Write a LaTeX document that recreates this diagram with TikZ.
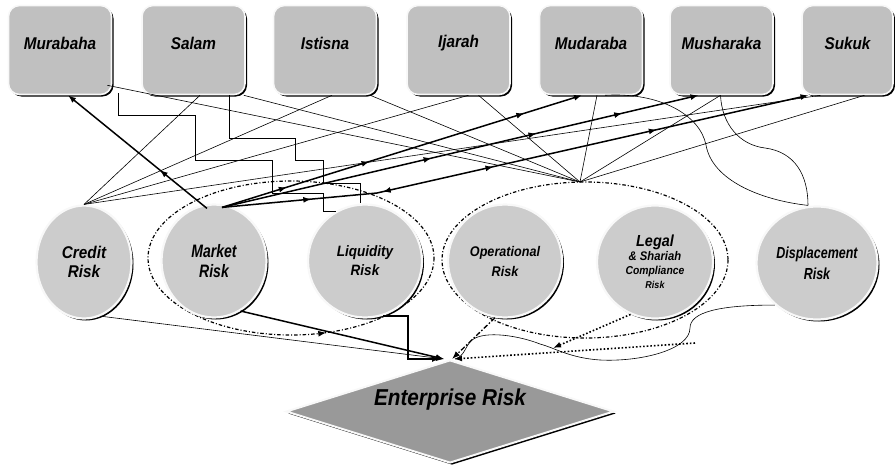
\documentclass[tikz,border=0pt]{standalone}
\usepackage{fontspec}
\setmainfont{Liberation Sans}
\newfontfamily\lab{Liberation Sans}[FakeStretch=0.9]
\newfontfamily\labn{Liberation Sans}[FakeStretch=0.78]
\usetikzlibrary{shapes.geometric,shadows,arrows.meta,decorations.markings}
\definecolor{boxgray}{RGB}{192,192,192}
\definecolor{circgray}{RGB}{204,204,204}
\definecolor{diagray}{RGB}{153,153,153}
\definecolor{rimwhite}{RGB}{248,248,248}
\begin{document}
\begin{tikzpicture}[x=1pt,y=-1pt,
  shd/.style={drop shadow={shadow xshift=2pt,shadow yshift=-2pt,fill=black,opacity=1}},
  boxn/.style={rectangle,rounded corners=11pt,minimum width=103pt,minimum height=89pt,
    fill=boxgray,draw=rimwhite,line width=1.6pt,shd,inner sep=0pt},
  lbl/.style={font=\lab\bfseries\itshape\fontsize{17}{19}\selectfont,text=black},
  rsk/.style={ellipse,minimum height=113pt,fill=circgray,draw=rimwhite,line width=2.2pt,shd,
    inner sep=0pt,align=center,font=\lab\bfseries\itshape\fontsize{17}{19}\selectfont},
  dia/.style={diamond,minimum width=328pt,minimum height=103pt,inner sep=0pt,
    fill=diagray,draw=rimwhite,line width=2pt,shd},
  grp/.style={line width=1.2pt,dash pattern=on 3.5pt off 2pt on 1pt off 2pt},
  thn/.style={line width=0.6pt},
  thk/.style={line width=1.5pt},
  tip/.style={-{Latex[length=8pt,width=6pt]}},
  marr/.style={postaction={decorate,decoration={markings,
    mark=at position #1 with {\arrow{Latex[length=8pt,width=6pt]}}}}},
  rarr/.style={postaction={decorate,decoration={markings,
    mark=at position #1 with {\arrowreversed{Latex[length=8pt,width=6pt]}}}}}
]
\useasboundingbox (0,0) rectangle (895,466);

% group ellipses
\draw[grp,rarr=0.2] (291,258) ellipse [x radius=143, y radius=77];
\draw[grp] (585,260) ellipse [x radius=143, y radius=78];

% contract boxes
\node[boxn,label={[lbl,yshift=7pt]center:Murabaha}] (mur) at (60,50) {};
\node[boxn,label={[lbl,yshift=7pt]center:Salam}] (sal) at (193.5,50) {};
\node[boxn,label={[lbl,yshift=7pt]center:Istisna}] (ist) at (325,50) {};
\node[boxn,label={[lbl,yshift=7pt]center:Ijarah}] (ija) at (458.5,50) {};
\node[boxn,label={[lbl,yshift=7pt]center:Mudaraba}] (mud) at (591,50) {};
\node[boxn,label={[lbl,yshift=7pt]center:Musharaka}] (mus) at (721.5,50) {};
\node[boxn,minimum width=91pt,label={[lbl,yshift=7pt]center:Sukuk}] (suk) at (847.5,50) {};

% risk ellipses
\node[rsk,minimum width=95pt] (cre) at (84,262) {Credit\\Risk};
\node[rsk,minimum width=105pt,font=\labn\bfseries\itshape\fontsize{18}{20}\selectfont] (mkt) at (214,261) {Market\\Risk};
\node[rsk,minimum width=114pt,font=\lab\bfseries\itshape\fontsize{15}{19}\selectfont] (liq) at (365,261) {Liquidity\\Risk};
\node[rsk,minimum width=114pt,font=\lab\bfseries\itshape\fontsize{14}{20}\selectfont] (ope) at (505,261) {Operational\\Risk};
\node[rsk,minimum width=116pt,font=\lab\bfseries\itshape\fontsize{11.5}{14}\selectfont] (leg) at (655,262)
  {{\fontsize{16}{18}\selectfont Legal}\\{\fontsize{12.5}{16}\selectfont \& Shariah}\\Compliance\\{\fontsize{10}{13}\selectfont Risk}};
\node[rsk,minimum width=121pt,font=\labn\bfseries\itshape\fontsize{16}{21}\selectfont] (dis) at (817,263) {Displacement\\Risk};

% enterprise diamond
\node[dia,label={[lbl,yshift=12pt,font=\lab\bfseries\itshape\fontsize{23}{25}\selectfont]center:Enterprise Risk}] (ent) at (450,411.5) {};

\coordinate (hub) at (580,182);

% credit fan
\draw[thn] (cre.north) -- ([xshift=6.5pt]sal.south);
\draw[thn] (cre.north) -- ([xshift=7pt]ist.south);
\draw[thn] (cre.north) -- ([xshift=10pt]ija.south);
\draw[thn] (cre.north) -- ([xshift=-27pt]suk.south);

% lines into the hub
\draw[thn] ([xshift=-5pt,yshift=10pt]mur.south east) -- (hub);
\draw[thn] ([xshift=-2pt]sal.south east) -- (hub);
\draw[thn] ([xshift=-7pt]ist.south east) -- (hub);
\draw[thn] ([xshift=20pt]ija.south) -- (hub);
\draw[thn] ([xshift=6pt]mud.south) -- (hub);
\draw[thn] (hub) -- ([xshift=-1pt]mus.south);
\draw[thn] (hub) -- ([xshift=17pt]suk.south);

% stepped lines to liquidity
\draw[thn] ([xshift=6pt,yshift=2pt]mur.south east) |- (195,115) |- (272,160) |- (323,193) |- (liq.120);
\draw[thn] ([xshift=-17pt]sal.south east) |- (295,138) |- (323,160) |- (360,183) -- ([xshift=-5pt]liq.north);

% curves to displacement
\draw[thn] ([xshift=14pt]mud.south) .. controls (660,92) and (700,115) .. (706,145)
  .. controls (712,180) and (760,200) .. ([xshift=-9pt]dis.north);
\draw[thn] ([xshift=-1pt]mus.south) .. controls (722,125) and (740,145) .. (765,148)
  .. controls (795,152) and (808,175) .. ([xshift=-9pt]dis.north);

% market risk (thick, arrowed)
\draw[thk,tip,marr=0.34] ([xshift=-7pt,yshift=-5pt]mkt.north) -- ([xshift=8pt]mur.south);
\draw[thk,tip,marr=0.18,marr=0.41,marr=0.84] ([xshift=8pt,yshift=-4pt]mkt.north) -- ([xshift=-9pt]mud.south);
\draw[thk,tip,marr=0.44,marr=0.66,marr=0.84] ([xshift=8pt,yshift=-4pt]mkt.north) -- ([xshift=-23pt]mus.south);
\draw[thk,tip,marr=0.15,rarr=0.27,marr=0.46,marr=0.74] ([xshift=8pt,yshift=-4pt]mkt.north) -- (377,193) -- ([xshift=-39pt]suk.south);

% into enterprise risk
\draw[thn,tip] (cre.-73) -- ([xshift=-6pt]ent.north);
\draw[thk,tip] (mkt.-62) -- ([xshift=-6pt]ent.north);
\draw[thk,tip] (liq.-72) -| ([xshift=-42pt]ent.north) -- ([xshift=-10pt]ent.north);
\draw[line width=1.3pt,dash pattern=on 5pt off 2pt on 1.5pt off 2pt,tip] (ope.-100) -- ([xshift=2pt]ent.north);
\coordinate (lgend) at (553,348);
\draw[line width=1.6pt,dotted,tip] (leg.-115) -- (lgend);
\coordinate (dloop) at (695,343);
\draw[line width=1.6pt,dotted,tip] (dloop) -- ([xshift=4pt]ent.north);
\draw[thn] (dis.-135) .. controls (720,305) and (690,312) .. (690,328)
  .. controls (690,350) and (640,362) .. (600,360)
  .. controls (570,358) and (555,348) .. (540,344)
  .. controls (520,336) and (485,330) .. (472,340)
  .. controls (465,346) and (465,356) .. ([xshift=5pt]ent.north);
\end{tikzpicture}
\end{document}
